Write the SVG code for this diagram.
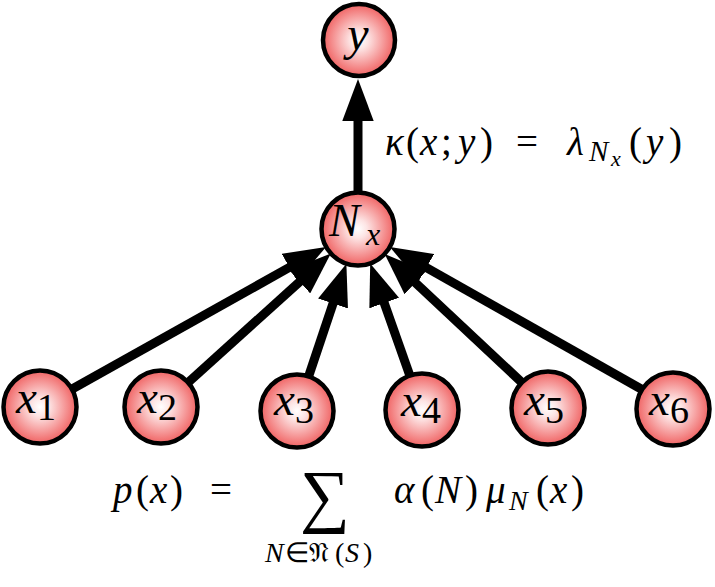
<svg xmlns="http://www.w3.org/2000/svg" width="715" height="587" viewBox="0 0 715 587">
<style>
.node{stroke:#000;stroke-width:4.5;fill:url(#g)}
.edge{stroke:#000;stroke-width:9;fill:none;marker-end:url(#ah)}
text{font-family:'Liberation Serif','Times New Roman',serif;fill:#000}
.i{font-style:italic}
.u{font-style:normal}
</style>
<defs>
<radialGradient id="g" cx="0.5" cy="0.5" r="0.5">
<stop offset="0" stop-color="#ffffff"/>
<stop offset="0.25" stop-color="#fde4e4"/>
<stop offset="1" stop-color="#f06262"/>
</radialGradient>
<marker id="ah" markerUnits="userSpaceOnUse" markerWidth="42" markerHeight="32" refX="2" refY="15" orient="auto" viewBox="0 0 40 30">
<path d="M0,0 L40,15 L0,30 z" fill="#000"/>
</marker>
</defs>
<g id="connectors">
<line class="edge" x1="358" y1="229" x2="358" y2="119"/>
<line class="edge" x1="40" y1="407" x2="291.2" y2="266.4"/>
<line class="edge" x1="161" y1="407" x2="301.2" y2="280.3"/>
<line class="edge" x1="297" y1="411" x2="333.7" y2="301.5"/>
<line class="edge" x1="422" y1="410" x2="383.5" y2="301.1"/>
<line class="edge" x1="548" y1="407" x2="413.8" y2="281.3"/>
<line class="edge" x1="673" y1="407" x2="424.6" y2="266.6"/>
</g>
<g id="node-y">
<circle class="node" cx="359" cy="40" r="36"/>
<text class="i" x="358" y="50" font-size="48" text-anchor="middle">y</text>
</g>
<g id="node-Nx">
<circle class="node" cx="358" cy="229" r="36.5"/>
<text class="i" x="329" y="236" font-size="46">N<tspan font-size="32" x="366" dy="9">x</tspan></text>
</g>
<g id="node-x1">
<circle class="node" cx="40" cy="407" r="36.5"/>
<text class="i" x="16" y="413" font-size="47">x<tspan class="u" font-size="38" dy="7">1</tspan></text>
</g>
<g id="node-x2">
<circle class="node" cx="161" cy="407" r="36.5"/>
<text class="i" x="137" y="413" font-size="47">x<tspan class="u" font-size="38" dy="7">2</tspan></text>
</g>
<g id="node-x3">
<circle class="node" cx="297" cy="411" r="36.5"/>
<text class="i" x="274" y="415" font-size="47">x<tspan class="u" font-size="38" dy="8">3</tspan></text>
</g>
<g id="node-x4">
<circle class="node" cx="422" cy="410" r="36.5"/>
<text class="i" x="401" y="416" font-size="47">x<tspan class="u" font-size="38" dy="7">4</tspan></text>
</g>
<g id="node-x5">
<circle class="node" cx="548" cy="408" r="36.5"/>
<text class="i" x="524" y="415" font-size="47">x<tspan class="u" font-size="38" dy="8">5</tspan></text>
</g>
<g id="node-x6">
<circle class="node" cx="673" cy="409" r="36.5"/>
<text class="i" x="649" y="415" font-size="47">x<tspan class="u" font-size="38" dy="8">6</tspan></text>
</g>
<g id="formula-kappa">
<text y="155" font-size="39"><tspan class="i" x="385">κ</tspan><tspan x="406">(</tspan><tspan class="i" x="420">x</tspan><tspan x="441">;</tspan><tspan class="i" x="458">y</tspan><tspan x="480">)</tspan><tspan x="516">=</tspan><tspan class="i" x="567">λ</tspan><tspan class="i" x="589" y="161" font-size="29">N</tspan><tspan class="i" x="611" y="166" font-size="22">x</tspan><tspan x="629" y="155">(</tspan><tspan class="i" x="646">y</tspan><tspan x="669">)</tspan></text>
</g>
<g id="formula-p">
<text y="503" font-size="39"><tspan class="i" x="113">p</tspan><tspan x="136">(</tspan><tspan class="i" x="150">x</tspan><tspan x="170">)</tspan><tspan x="210">=</tspan><tspan class="i" x="394">α</tspan><tspan x="421">(</tspan><tspan class="i" x="435">N</tspan><tspan x="465">)</tspan><tspan class="i" x="486">μ</tspan><tspan class="i" x="509" y="510" font-size="28">N</tspan><tspan x="536" y="503">(</tspan><tspan class="i" x="550">x</tspan><tspan x="571">)</tspan></text>
<text x="325" y="519" font-size="70" text-anchor="middle">∑</text>
<text y="562" font-size="28"><tspan class="i" x="265">N</tspan><tspan x="285">∈</tspan><tspan x="309">𝔑</tspan><tspan x="335">(</tspan><tspan class="i" x="345">S</tspan><tspan x="363">)</tspan></text>
</g>
</svg>
